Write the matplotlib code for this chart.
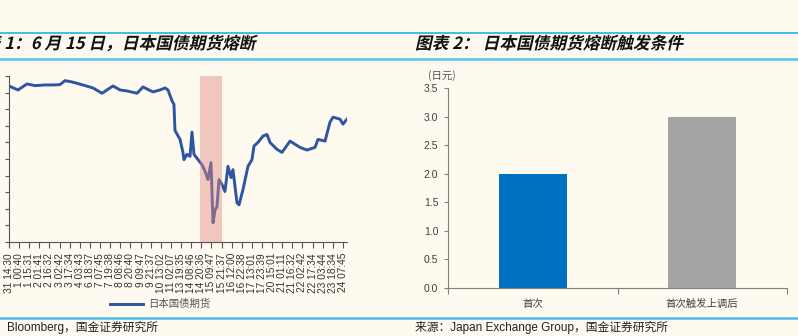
import matplotlib
matplotlib.use("Agg")
import matplotlib.pyplot as plt
from matplotlib.font_manager import FontProperties
from matplotlib.textpath import TextPath
from matplotlib.patches import PathPatch
from matplotlib.transforms import Affine2D
from matplotlib.lines import Line2D

# ---------------- data ----------------
# left: JGB futures, position along time axis (tick units) and price
jgb_x = [0, 0.89, 1.78, 2.57, 3.56, 4.35, 5.04, 5.53, 6.23, 7.31, 8.30, 9.19, 9.68,
         10.28, 10.97, 11.66, 12.65, 13.24, 14.23, 14.92, 15.42, 15.71, 16.11, 16.30,
         16.40, 16.90, 17.19, 17.29, 17.59, 17.89, 18.08, 18.28, 18.68, 19.07, 19.37,
         19.66, 19.96, 20.16, 20.36, 20.55, 20.75, 21.05, 21.34, 21.64, 21.94, 22.13,
         22.53, 22.73, 23.12, 23.62, 24.01, 24.21, 24.60, 25.10, 25.49, 25.79, 26.48,
         26.98, 27.77, 28.75, 29.45, 30.24, 30.53, 31.23, 31.72, 32.02, 32.71, 33.00, 33.40]
jgb_price = [149.70, 149.58, 149.76, 149.71, 149.73, 149.73, 149.74, 149.86, 149.82,
             149.73, 149.64, 149.48, 149.58, 149.70, 149.58, 149.55, 149.48, 149.67,
             149.52, 149.58, 149.64, 149.58, 149.25, 149.15, 148.36, 148.09, 147.70,
             147.48, 147.64, 147.58, 148.31, 147.64, 147.48, 147.33, 147.13, 146.88,
             147.39, 145.58, 145.97, 146.06, 146.88, 146.73, 146.52, 147.28, 146.94,
             147.18, 146.18, 146.12, 146.58, 147.28, 147.48, 147.89, 148.00, 148.19,
             148.24, 148.00, 147.79, 147.70, 148.04, 147.85, 147.77, 147.85, 148.09,
             148.04, 148.61, 148.76, 148.70, 148.55, 148.70]
time_labels = ["31 14:30", "1 00:40", "1 15:31", "2 01:41", "2 16:32", "3 02:42",
               "3 17:34", "4 03:43", "6 18:37", "7 07:45", "7 19:38", "8 08:46",
               "8 20:40", "9 09:47", "9 21:37", "10 13:02", "11 02:07", "13 19:35",
               "14 08:46", "14 20:36", "15 09:47", "15 21:37", "16 12:00", "16 22:38",
               "17 13:01", "17 23:39", "20 15:01", "21 01:11", "21 16:32", "22 02:42",
               "22 17:34", "23 03:44", "23 18:34", "24 07:45"]
halt_span = (18.87, 21.05)

# right: circuit breaker trigger (yen)
cb_labels = ["首次", "首次触发上调后"]
cb_values = [2.0, 3.0]
cb_colors = ["#0070C0", "#A5A5A5"]

BG = "#FEFAF0"
W, H = 798, 336
fig = plt.figure(figsize=(W / 100, H / 100), dpi=100, facecolor=BG)

cjk = "Noto Sans CJK SC"
mix = ["Liberation Sans", cjk]


def px(x0, y0, w, h):
    return [x0 / W, 1 - (y0 + h) / H, w / W, h / H]


def slanted(x, y_base, s, size=16.7):
    prop = FontProperties(family=[cjk], weight="bold")
    tp = TextPath((0, 0), s, size=size, prop=prop)
    tr = Affine2D().skew_deg(13, 0).translate(x, H - y_base)
    fig.add_artist(PathPatch(tp, transform=tr, facecolor="#111111", edgecolor="none", lw=0))


# header / footer rules
for yy, lw, c in [(32.5, 1.2, "#22B0E8"), (58.5, 1.8, "#5AC4EE"), (317.5, 1.8, "#4FBEEA")]:
    fig.add_artist(Line2D([0, 1], [1 - yy / H] * 2, transform=fig.transFigure, color=c, lw=lw))

slanted(-33, 49, "图表 1：6 月 15 日，日本国债期货熔断")
slanted(415, 49, "图表 2： 日本国债期货熔断触发条件")

# ---------------- left chart ----------------
ax1 = fig.add_axes(px(9, 76, 338, 166))
ax1.set_facecolor(BG)
ax1.plot(jgb_x, jgb_price, color="#2E54A3", lw=2.1, label="日本国债期货", zorder=2)
ax1.axvspan(*halt_span, color="#E3877D", alpha=0.45, lw=0, zorder=3)
ax1.set_xlim(0, 33.4)
ax1.set_ylim(145, 150)
ax1.set_yticks([145 + 0.5 * i for i in range(11)])
ax1.set_xticks(range(len(time_labels)))
ax1.set_xticklabels(time_labels, rotation=90, fontsize=7.3, family=mix, color="#333333")
ax1.tick_params(axis="x", length=4, width=0.8, color="#555555", pad=4)
# y tick labels sit outside the visible area in the reference
ax1.tick_params(axis="y", length=3, width=0.8, color="#555555", labelleft=False)
for s in ["top", "right"]:
    ax1.spines[s].set_visible(False)
for s in ["left", "bottom"]:
    ax1.spines[s].set_color("#555555")
    ax1.spines[s].set_linewidth(0.8)
leg = ax1.legend(loc="center", bbox_to_anchor=(160 / W, 1 - 304 / H), bbox_transform=fig.transFigure,
                 frameon=False, handlelength=3.2, handletextpad=0.5,
                 prop=FontProperties(family=[cjk], size=7.5))
for t in leg.get_texts():
    t.set_color("#555555")

fig.text(7 / W, 1 - 327 / H, "Bloomberg，国金证券研究所", family=mix, fontsize=8.5,
         color="#222222", va="center", ha="left")

# ---------------- right chart ----------------
ax2 = fig.add_axes(px(448, 88, 339, 200))
ax2.set_facecolor(BG)
ax2.bar(range(len(cb_values)), cb_values, width=0.4, color=cb_colors)
ax2.set_xlim(-0.5, 1.5)
ax2.set_ylim(0, 3.5)
ax2.set_yticks([0.5 * i for i in range(8)])
ax2.set_yticklabels([f"{0.5 * i:.1f}" for i in range(8)], fontsize=7.5, family="Liberation Sans",
                    color="#404040")
ax2.set_xticks(range(len(cb_labels)))
ax2.set_xticklabels(cb_labels, fontsize=7.5, family=cjk, color="#404040")
ax2.set_xticks([-0.5, 0.5, 1.5], minor=True)
ax2.tick_params(axis="x", which="major", length=0, pad=8)
ax2.tick_params(axis="x", which="minor", length=4, width=0.8, color="#808080")
ax2.tick_params(axis="y", length=3, width=0.8, color="#808080", pad=4)
for s in ["top", "right"]:
    ax2.spines[s].set_visible(False)
for s in ["left", "bottom"]:
    ax2.spines[s].set_color("#808080")
    ax2.spines[s].set_linewidth(0.8)
fig.text(442 / W, 1 - 76 / H, "(日元)", family=[cjk], fontsize=7.5, color="#555555",
         ha="center", va="center")

fig.text(415 / W, 1 - 327 / H, "来源：Japan Exchange Group，国金证券研究所", family=mix,
         fontsize=8.5, color="#222222", va="center", ha="left")

fig.savefig("out.png", dpi=100, facecolor=BG)
